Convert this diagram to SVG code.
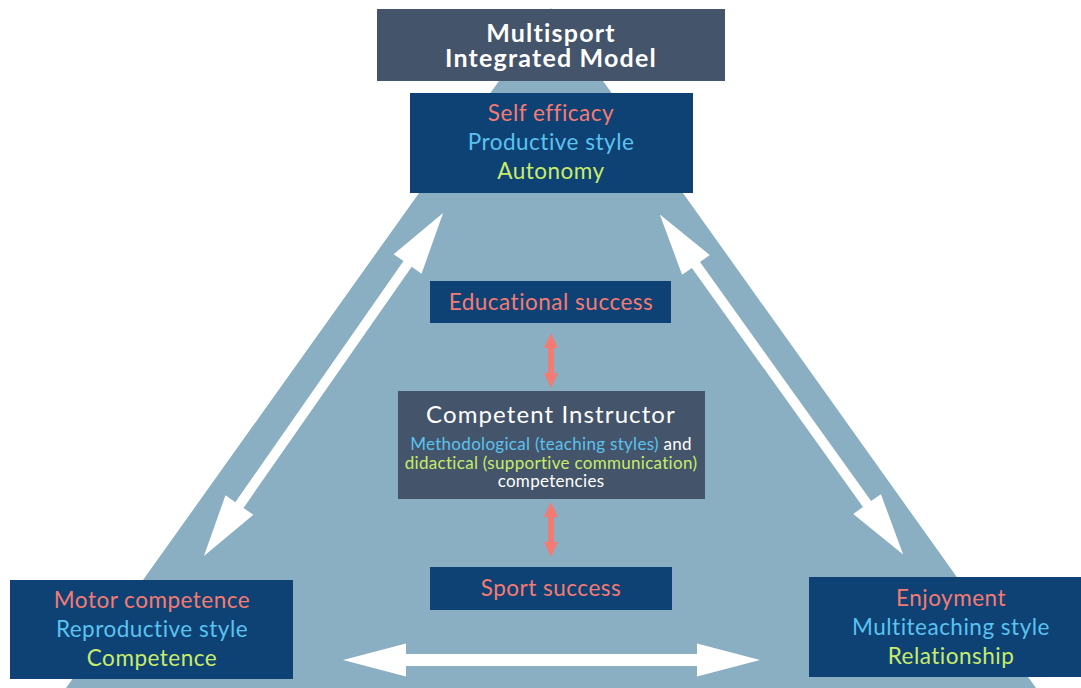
<svg xmlns="http://www.w3.org/2000/svg" width="1081" height="688" viewBox="0 0 1081 688">
<style>
text{font-family:Lato,"Noto Sans",sans-serif;text-anchor:middle}
.blue{fill:#0E4174}.slate{fill:#44546A}
.r{fill:#F47B73}.b{fill:#5BC3EF}.g{fill:#C8EC6A}.w{fill:#FFFFFF}
.t3{font-size:22.5px;letter-spacing:0.5px}
.ti{font-size:25px;font-weight:bold;letter-spacing:1.2px}
.ci{font-size:24px;letter-spacing:1.1px}
.sub{font-size:17px;letter-spacing:0.3px}
.wa{fill:#FFFFFF}.sa{fill:#F47B73}
</style>
<rect width="1081" height="688" fill="#FFFFFF"/>
<polygon id="triangle" points="551,8 66,688 1036,688" fill="#8BAFC2"/>
<g id="connectors">
<polygon class="wa" transform="translate(323.5,384.5) rotate(-55.1)" points="-209,0 -147,-17 -147,-5 147,-5 147,-17 209,0 147,17 147,5 -147,5 -147,17"/>
<polygon class="wa" transform="translate(781.5,384.5) rotate(54.4)" points="-209,0 -147,-17 -147,-5 147,-5 147,-17 209,0 147,17 147,5 -147,5 -147,17"/>
<polygon class="wa" transform="translate(551.5,660)" points="-208.5,0 -145.5,-16.5 -145.5,-6 145.5,-6 145.5,-16.5 208.5,0 145.5,16.5 145.5,6 -145.5,6 -145.5,16.5"/>
<polygon class="sa" points="551,333 558,348 554,348 554,373 558,373 551,388 544,373 548,373 548,348 544,348"/>
<polygon class="sa" points="551,502 558,517 554,517 554,542 558,542 551,557 544,542 548,542 548,517 544,517"/>
</g>
<g id="title">
<rect class="slate" x="377" y="9" width="348" height="72"/>
<text class="w ti" x="551" y="42">Multisport</text>
<text class="w ti" x="551" y="67">Integrated Model</text>
</g>
<g id="top">
<rect class="blue" x="410" y="93" width="283" height="100"/>
<text class="r t3" x="551" y="121">Self efficacy</text>
<text class="b t3" x="551" y="150">Productive style</text>
<text class="g t3" x="551" y="179">Autonomy</text>
</g>
<g id="educational">
<rect class="blue" x="430" y="281" width="241" height="42"/>
<text class="r t3" x="551" y="310">Educational success</text>
</g>
<g id="instructor">
<rect class="slate" x="398" y="391" width="307" height="108"/>
<text class="w ci" x="551" y="423">Competent Instructor</text>
<text class="sub" x="551" y="450"><tspan class="b">Methodological (teaching styles)</tspan><tspan class="w"> and</tspan></text>
<text class="g sub" x="551" y="469">didactical (supportive communication)</text>
<text class="w sub" x="551" y="487">competencies</text>
</g>
<g id="sport">
<rect class="blue" x="430" y="567" width="242" height="43"/>
<text class="r t3" x="551" y="596">Sport success</text>
</g>
<g id="left">
<rect class="blue" x="10" y="580" width="283" height="99"/>
<text class="r t3" x="152" y="608">Motor competence</text>
<text class="b t3" x="152" y="637">Reproductive style</text>
<text class="g t3" x="152" y="666">Competence</text>
</g>
<g id="right">
<rect class="blue" x="809" y="577" width="272" height="100"/>
<text class="r t3" x="951" y="606">Enjoyment</text>
<text class="b t3" x="951" y="635">Multiteaching style</text>
<text class="g t3" x="951" y="664">Relationship</text>
</g>
</svg>
